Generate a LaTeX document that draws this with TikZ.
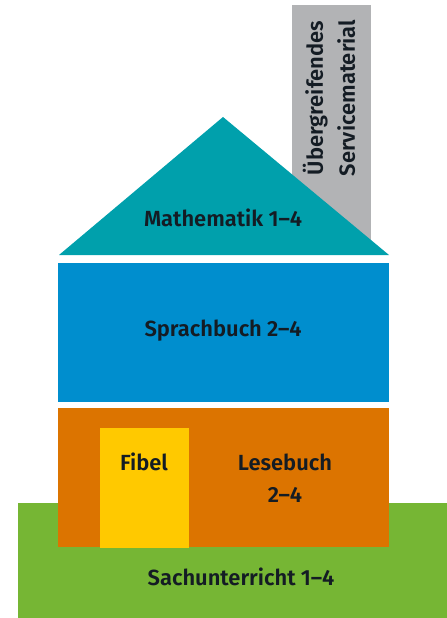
\documentclass[tikz,border=0pt]{standalone}
\usepackage{fontspec}
\setmainfont{Fira Sans}[UprightFont={* SemiBold}]
\usetikzlibrary{positioning}

\definecolor{roofteal}{RGB}{0,160,172}
\definecolor{wallblue}{RGB}{0,142,206}
\definecolor{wallorange}{RGB}{220,116,0}
\definecolor{dooryellow}{RGB}{255,201,0}
\definecolor{groundgreen}{RGB}{118,182,52}
\definecolor{chimneygray}{RGB}{178,179,181}
\definecolor{textdark}{RGB}{20,28,36}

\begin{document}
\begin{tikzpicture}[x=1bp,y=-1bp,
  housetext/.style={font=\fontsize{22}{32}\selectfont, text=textdark, align=center, inner sep=0pt}]
 \useasboundingbox (0,0) rectangle (447,618);

 % chimney behind the roof
 \fill[chimneygray] (292,5) rectangle (371,255);
 \node[housetext, rotate=90] (service) at (329,98) {Übergreifendes\\Servicematerial};

 % roof
 \fill[roofteal] (59,255) -- (223,117) -- (389,255) -- cycle;
 \node[housetext] (mathe) at (223,218) {Mathematik 1–4};

 % middle floor
 \fill[wallblue] (58,263) rectangle (389,402);
 \node[housetext] (sprach) at (223,331) {Sprachbuch 2–4};

 % ground
 \fill[groundgreen] (18,503) rectangle (447,618);
 \node[housetext] (sach) at (241,577) {Sachunterricht 1–4};

 % ground floor with door
 \fill[wallorange] (58,408) rectangle (389,547);
 \fill[dooryellow] (100,428) rectangle (189,548);
 \node[housetext] (fibel) at (144,462) {Fibel};
 \node[housetext] (lese) at (285,478) {Lesebuch\\2–4};

\end{tikzpicture}
\end{document}
